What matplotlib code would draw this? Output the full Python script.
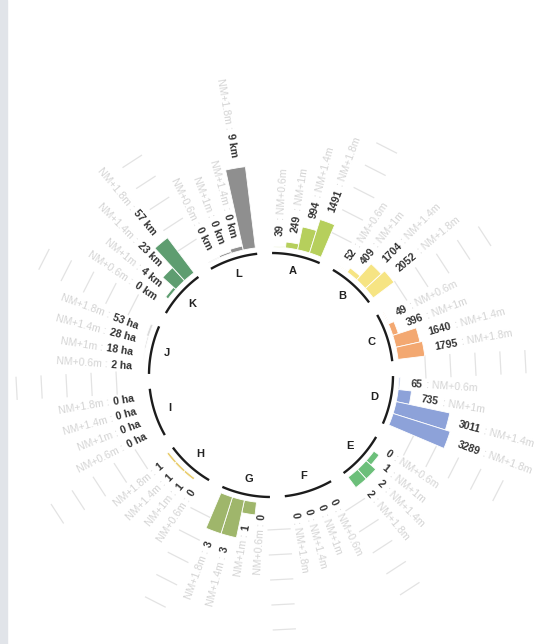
import numpy as np
import matplotlib.pyplot as plt
from matplotlib.patches import Rectangle
from matplotlib.font_manager import FontProperties

plt.rcParams['font.family'] = ['Liberation Sans', 'DejaVu Sans']

# categories and scenarios
groups = ['A', 'B', 'C', 'D', 'E', 'F', 'G', 'H', 'I', 'J', 'K', 'L']
scenarios = ['NM+0.6m', 'NM+1m', 'NM+1.4m', 'NM+1.8m']

# values per category (one per scenario)
val_A = [39, 249, 994, 1491]
val_B = [52, 409, 1704, 2052]
val_C = [49, 396, 1640, 1795]
val_D = [65, 735, 3011, 3289]
val_E = [0, 1, 2, 2]
val_F = [0, 0, 0, 0]
val_G = [0, 1, 3, 3]
val_H = [0, 1, 1, 1]
val_I = [0, 0, 0, 0]
val_J = [2, 18, 28, 53]
val_K = [0.3, 4, 23, 57]
val_L = [0.1, 0.2, 0.45, 9]
values = [val_A, val_B, val_C, val_D, val_E, val_F,
          val_G, val_H, val_I, val_J, val_K, val_L]
units = ['', '', '', '', '', '', '', '', ' ha', ' ha', ' km', ' km']

# style: bar colour and radial scale (px per unit) of each category
colors = ['#b6cf5c', '#f6e483', '#f3a871', '#8da2d9', '#6cbf7a', '#bbbbbb',
          '#9fb66b', '#e9cd6d', '#bbbbbb', '#dcdcdc', '#5e9d70', '#8f8f8f']
px_per_unit = [0.0235, 0.0127, 0.015, 0.0182, 6.5, 1, 12.8, 2.5, 1, 0.05, 0.77, 9.1]

W, H = 539, 644
cx, cy = 271, 375          # centre of the ring, px
R = 360                    # radial extent of the axes, px (1 data unit = 1 px)
r_arc, r_base, pad = 122, 128, 11
tick_r = [155, 180, 205, 230, 255]
offsets = np.array([-8.25, -2.75, 2.75, 8.25])
fs = 7.6

fig = plt.figure(figsize=(W / 100, H / 100), dpi=100)
fig.patches.append(Rectangle((0, 0), 7 / W, 1, transform=fig.transFigure,
                             color='#e1e4e9', zorder=0))
ax = fig.add_axes([(cx - R) / W, (H - cy - R) / H, 2 * R / W, 2 * R / H],
                  projection='polar')
ax.set_theta_zero_location('N')
ax.set_theta_direction(-1)
ax.set_ylim(0, R)
ax.axis('off')
renderer = fig.canvas.get_renderer()
vprop = FontProperties(family=['Liberation Sans'], size=fs, weight='bold')

# faint tangential guide ticks at the category boundaries (none at the top)
for k in range(1, 12):
    tb = -3 + 30 * k
    for r in tick_r:
        half = np.rad2deg(11 / r)
        ax.plot(np.deg2rad([tb - half, tb + half]), [r, r],
                color='#e3e3e3', lw=0.9, zorder=1)

for gi, g in enumerate(groups):
    tc = 12 + 30 * gi
    vals = np.array(values[gi], dtype=float)
    lengths = vals * px_per_unit[gi]
    thetas = tc + offsets

    ax.bar(np.deg2rad(thetas), lengths, width=np.deg2rad(5.5), bottom=r_base,
           color=colors[gi], edgecolor='white', linewidth=0.6, zorder=2)

    arc = np.deg2rad(np.linspace(tc - 11.5, tc + 11.5, 60))
    ax.plot(arc, np.full(60, r_arc), color='#1c1c1c', lw=1.7,
            solid_capstyle='butt', zorder=3)
    ax.text(np.deg2rad(tc), 106, g, ha='center', va='center', fontsize=8,
            fontweight='bold', color='#222222')

    for j in range(4):
        th = thetas[j]
        r0 = r_base + lengths[j] + pad
        vtxt = f"{vals[j]:.0f}{units[gi]}"
        w_px = renderer.get_text_width_height_descent(vtxt, vprop, ismath=False)[0]
        if th % 360 < 180:
            rot, ha, gtxt = 90 - th, 'left', ': ' + scenarios[j]
        else:
            rot, ha, gtxt = 270 - th, 'right', scenarios[j] + ' :'
        ax.text(np.deg2rad(th), r0, vtxt, rotation=rot, rotation_mode='anchor',
                ha=ha, va='center', fontproperties=vprop, color='#333333', zorder=4)
        ax.text(np.deg2rad(th), r0 + w_px + 4, gtxt, rotation=rot,
                rotation_mode='anchor', ha=ha, va='center', fontsize=fs,
                color='#d4d4d4', zorder=4)

fig.savefig('out.png', dpi=100)
